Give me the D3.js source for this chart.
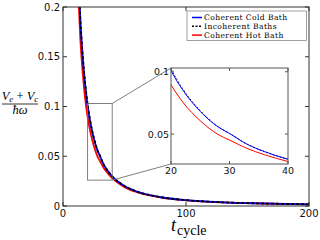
<!DOCTYPE html>
<html><head><meta charset="utf-8">
<script src="https://cdn.jsdelivr.net/npm/d3@7"></script>
<style>html,body{margin:0;padding:0;background:#fff;}svg{display:block;}</style>
</head><body>
<svg id="c" width="320" height="240"></svg>
<script>
// Data
const tValues = [12, 14, 16, 18, 20, 22, 25, 28, 30, 33, 36, 40, 50, 60, 80, 100, 130, 160, 200];
const coherentCold = [0.248, 0.189, 0.150, 0.122, 0.101, 0.0854, 0.0682, 0.0559, 0.0505, 0.0419, 0.0359, 0.0298, 0.0201, 0.0146, 0.0088, 0.0059, 0.0037, 0.0026, 0.0017];
const incoherent   = [0.251, 0.191, 0.152, 0.1235, 0.1025, 0.0864, 0.0688, 0.0561, 0.0505, 0.0419, 0.0359, 0.0298, 0.0201, 0.0146, 0.0088, 0.0059, 0.0037, 0.0026, 0.0017];
const coherentHot  = [0.225, 0.170, 0.134, 0.108, 0.0896, 0.0757, 0.0607, 0.0498, 0.0452, 0.0385, 0.0334, 0.0280, 0.0190, 0.0139, 0.0085, 0.0057, 0.0036, 0.0025, 0.0017];
const seriesNames = ["Coherent Cold Bath", "Incoherent Baths", "Coherent Hot Bath"];
const seriesColors = ["#0000ff", "#000000", "#ff0000"];
const mainYTicks = [0, 0.05, 0.1, 0.15, 0.2];
const mainYTickLabels = ["0", "0.05", "0.1", "0.15", "0.2"];
const mainXTicks = [0, 100, 200];
const insetXTicks = [20, 30, 40];
const insetYTicks = [0.05, 0.1];
const insetXDomain = [20, 40];
const insetYDomain = [0.026, 0.103];

const series = [coherentCold, incoherent, coherentHot];
const svg = d3.select("#c");

const M = {l: 63, r: 309, t: 7, b: 206};
const x = d3.scaleLinear().domain([0, 200]).range([M.l, M.r]);
const y = d3.scaleLinear().domain([0, 0.2]).range([M.b, M.t]);

const defs = svg.append("defs");
defs.append("clipPath").attr("id", "mclip").append("rect")
  .attr("x", M.l).attr("y", M.t).attr("width", M.r - M.l).attr("height", M.b - M.t);

const lineMain = d3.line().x((d, i) => x(tValues[i])).y(d => y(d)).curve(d3.curveMonotoneX);
const gMain = svg.append("g").attr("clip-path", "url(#mclip)");
[2, 0, 1].forEach(k => {
  gMain.append("path").datum(series[k]).attr("d", lineMain)
    .attr("fill", "none").attr("stroke", seriesColors[k]).attr("stroke-width", 1.8)
    .attr("stroke-dasharray", k === 1 ? "3,2" : null);
});

// main frame and ticks
const frameColor = "#333";
svg.append("rect").attr("x", M.l).attr("y", M.t).attr("width", M.r - M.l).attr("height", M.b - M.t)
  .attr("fill", "none").attr("stroke", frameColor).attr("stroke-width", 1);
const tickFont = "'DejaVu Sans', sans-serif";
mainYTicks.forEach((v, i) => {
  const yy = y(v);
  svg.append("line").attr("x1", M.l).attr("x2", M.l + 4).attr("y1", yy).attr("y2", yy).attr("stroke", frameColor);
  svg.append("line").attr("x1", M.r).attr("x2", M.r - 4).attr("y1", yy).attr("y2", yy).attr("stroke", frameColor);
  svg.append("text").attr("x", M.l - 3).attr("y", yy + 3.5).attr("text-anchor", "end")
    .attr("font-family", tickFont).attr("font-size", 10).attr("fill", "#111").text(mainYTickLabels[i]);
});
mainXTicks.forEach(v => {
  const xx = x(v);
  svg.append("line").attr("x1", xx).attr("x2", xx).attr("y1", M.b).attr("y2", M.b - 4).attr("stroke", frameColor);
  svg.append("line").attr("x1", xx).attr("x2", xx).attr("y1", M.t).attr("y2", M.t + 4).attr("stroke", frameColor);
  svg.append("text").attr("x", xx).attr("y", 217).attr("text-anchor", "middle")
    .attr("font-family", tickFont).attr("font-size", 10).attr("fill", "#111").text(v);
});

// Inset
const I = {l: 171, r: 288, t: 68, b: 164};
const xi = d3.scaleLinear().domain(insetXDomain).range([I.l, I.r]);
const yi = d3.scaleLinear().domain(insetYDomain).range([I.b, I.t]);
const grey = "#707070";
svg.append("rect").attr("x", x(insetXDomain[0])).attr("y", y(insetYDomain[1]))
  .attr("width", x(insetXDomain[1]) - x(insetXDomain[0])).attr("height", y(insetYDomain[0]) - y(insetYDomain[1]))
  .attr("fill", "none").attr("stroke", grey).attr("stroke-width", 0.9);
svg.append("line").attr("x1", x(insetXDomain[1])).attr("y1", y(insetYDomain[1])).attr("x2", I.l).attr("y2", I.t)
  .attr("stroke", grey).attr("stroke-width", 0.9);
svg.append("line").attr("x1", x(insetXDomain[1])).attr("y1", y(insetYDomain[0])).attr("x2", I.l).attr("y2", I.b)
  .attr("stroke", grey).attr("stroke-width", 0.9);

svg.append("rect").attr("x", I.l).attr("y", I.t).attr("width", I.r - I.l).attr("height", I.b - I.t).attr("fill", "#fff");
defs.append("clipPath").attr("id", "iclip").append("rect")
  .attr("x", I.l).attr("y", I.t).attr("width", I.r - I.l).attr("height", I.b - I.t);
const lineIn = d3.line().x((d, i) => xi(tValues[i])).y(d => yi(d)).curve(d3.curveMonotoneX);
const gIn = svg.append("g").attr("clip-path", "url(#iclip)");
[2, 1, 0].forEach(k => {
  gIn.append("path").datum(series[k]).attr("d", lineIn)
    .attr("fill", "none").attr("stroke", seriesColors[k]).attr("stroke-width", 1)
    .attr("stroke-dasharray", k === 1 ? "1.5,2" : null);
});
svg.append("rect").attr("x", I.l).attr("y", I.t).attr("width", I.r - I.l).attr("height", I.b - I.t)
  .attr("fill", "none").attr("stroke", "#555").attr("stroke-width", 1);
insetYTicks.forEach(v => {
  const yy = yi(v);
  svg.append("line").attr("x1", I.l).attr("x2", I.l + 3).attr("y1", yy).attr("y2", yy).attr("stroke", "#555");
  svg.append("line").attr("x1", I.r).attr("x2", I.r - 3).attr("y1", yy).attr("y2", yy).attr("stroke", "#555");
  svg.append("text").attr("x", I.l - 2).attr("y", yy + 3.5).attr("text-anchor", "end")
    .attr("font-family", tickFont).attr("font-size", 9.5).attr("fill", "#111").text(v);
});
insetXTicks.forEach(v => {
  const xx = xi(v);
  svg.append("line").attr("x1", xx).attr("x2", xx).attr("y1", I.b).attr("y2", I.b - 3).attr("stroke", "#555");
  svg.append("line").attr("x1", xx).attr("x2", xx).attr("y1", I.t).attr("y2", I.t + 3).attr("stroke", "#555");
  svg.append("text").attr("x", xx).attr("y", 174).attr("text-anchor", "middle")
    .attr("font-family", tickFont).attr("font-size", 9.5).attr("fill", "#111").text(v);
});

// Legend
const serif = "'Liberation Serif', 'Times New Roman', serif";
const lserif = "'DejaVu Serif', serif";
const lg = svg.append("g");
lg.append("rect").attr("x", 187).attr("y", 11).attr("width", 119.5).attr("height", 29.5)
  .attr("fill", "#fff").attr("stroke", "#888").attr("stroke-width", 0.8);
seriesNames.forEach((n, i) => {
  const yy = 17.5 + i * 8.8;
  lg.append("line").attr("x1", 192).attr("x2", 202).attr("y1", yy).attr("y2", yy)
    .attr("stroke", seriesColors[i]).attr("stroke-width", 1.5).attr("stroke-dasharray", i === 1 ? "2,1.5" : null);
  lg.append("text").attr("x", 204).attr("y", yy + 2.6).attr("font-family", lserif).attr("font-size", 7.6)
    .attr("letter-spacing", 0.4).attr("fill", "#000").text(n);
});

// Y label fraction
const yl = svg.append("g").attr("font-family", serif).attr("fill", "#000");
const num = yl.append("text").attr("x", 20).attr("y", 100).attr("text-anchor", "middle").attr("font-size", 12.5);
num.append("tspan").attr("font-style", "italic").text("V");
num.append("tspan").attr("font-style", "italic").attr("font-size", 9).attr("dy", 2).text("e");
num.append("tspan").attr("dy", -2).text(" + ");
num.append("tspan").attr("font-style", "italic").text("V");
num.append("tspan").attr("font-style", "italic").attr("font-size", 9).attr("dy", 2).text("c");
yl.append("line").attr("x1", 2).attr("x2", 38).attr("y1", 104).attr("y2", 104).attr("stroke", "#000").attr("stroke-width", 0.8);
yl.append("text").attr("x", 20).attr("y", 114).attr("text-anchor", "middle").attr("font-size", 12.5)
  .attr("font-style", "italic").text("ħω");

// X label
const xl = svg.append("text").attr("x", 171).attr("y", 231).attr("font-family", serif).attr("fill", "#000");
xl.append("tspan").attr("font-style", "italic").attr("font-size", 18).text("t");
xl.append("tspan").attr("font-size", 14).attr("dy", 4).attr("dx", 1).text("cycle");
</script>
</body></html>
